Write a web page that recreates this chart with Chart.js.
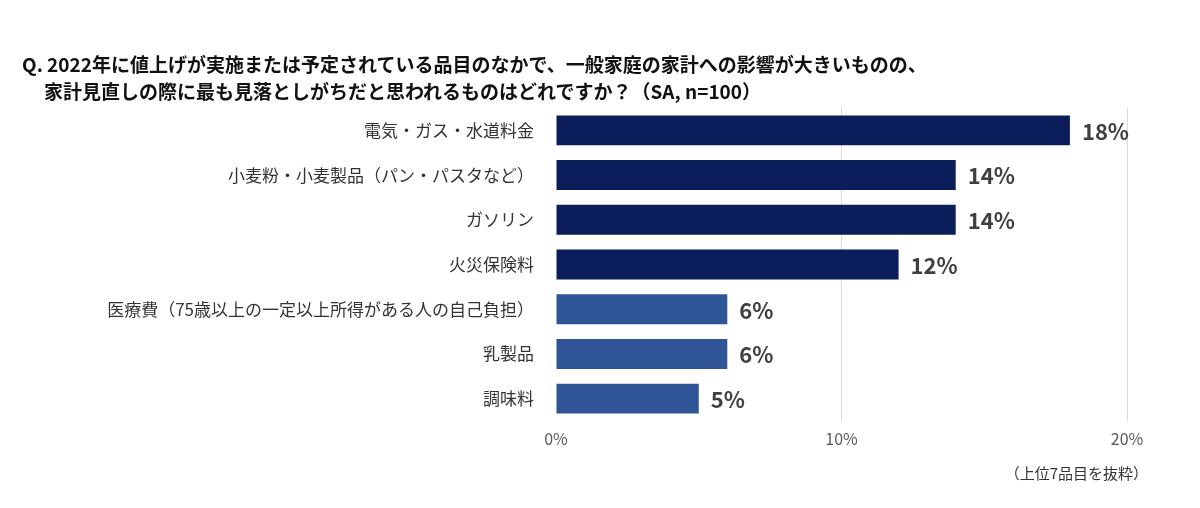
<!DOCTYPE html>
<html>
<head>
<meta charset="utf-8">
<script src="https://cdn.jsdelivr.net/npm/chart.js@4"></script>
<style>
  body { margin: 0; background: #fff; font-family: "Noto Sans CJK JP", sans-serif; }
  #wrap { position: relative; width: 1200px; height: 508px; }
  .title { position: absolute; font-weight: bold; font-size: 19px; color: #111; white-space: nowrap; }
  #note { position: absolute; right: 52px; top: 462px; font-size: 15px; color: #333; }
</style>
</head>
<body>
<div id="wrap">
  <canvas id="myChart" width="1200" height="508"></canvas>
  <div class="title" style="left:22px; top:50px;">Q. 2022年に値上げが実施または予定されている品目のなかで、一般家庭の家計への影響が大きいものの、</div>
  <div class="title" style="left:44px; top:77px;">家計見直しの際に最も見落としがちだと思われるものはどれですか？（SA, n=100）</div>
  <div id="note">（上位7品目を抜粋）</div>
</div>
<script>
const categories = ['電気・ガス・水道料金', '小麦粉・小麦製品（パン・パスタなど）', 'ガソリン', '火災保険料',
    '医療費（75歳以上の一定以上所得がある人の自己負担）', '乳製品', '調味料'];
const values = [18, 14, 14, 12, 6, 6, 5];
const tickLabels = ['0%', '10%', '20%'];

const barColors = values.map((v, i) => i < 4 ? '#0c1d5c' : '#2f5597');

// Draw the value labels at the end of each bar
const valueLabels = {
    id: 'valueLabels',
    afterDatasetsDraw(chart) {
        const ctx = chart.ctx;
        const meta = chart.getDatasetMeta(0);
        ctx.save();
        ctx.font = 'bold 22px "Noto Sans CJK JP", sans-serif';
        ctx.fillStyle = '#404040';
        ctx.textBaseline = 'middle';
        meta.data.forEach((bar, i) => {
            ctx.fillText(values[i] + '%', bar.x + 12, bar.y + 1);
        });
        ctx.restore();
    }
};

const ctx = document.getElementById('myChart').getContext('2d');
const statisticChart = new Chart(ctx, {
    type: 'bar',
    data: {
        labels: categories,
        datasets: [{
            data: values,
            backgroundColor: barColors,
            barPercentage: 0.67,
            categoryPercentage: 1
        }]
    },
    options: {
        indexAxis: 'y',
        responsive: false,
        animation: false,
        layout: { padding: { left: 0, right: 73, top: 108, bottom: 47 } },
        plugins: { legend: { display: false }, tooltip: { enabled: false } },
        scales: {
            x: {
                min: 0, max: 20,
                ticks: {
                    stepSize: 10,
                    color: '#595959',
                    font: { size: 16, family: '"Noto Sans CJK JP", sans-serif' },
                    callback: (v, i) => tickLabels[i],
                    padding: 8
                },
                grid: {
                    color: (c) => c.tick && c.tick.value === 0 ? 'rgba(0,0,0,0)' : '#d9d9d9',
                    drawTicks: false
                },
                border: { display: false },
                afterFit: (s) => { s.height = 40; }
            },
            y: {
                ticks: {
                    color: '#333',
                    font: { size: 17, family: '"Noto Sans CJK JP", sans-serif' },
                    padding: 14
                },
                grid: { display: false },
                border: { display: false },
                afterFit: (s) => { s.width = 556; }
            }
        }
    },
    plugins: [valueLabels]
});
</script>
</body>
</html>
